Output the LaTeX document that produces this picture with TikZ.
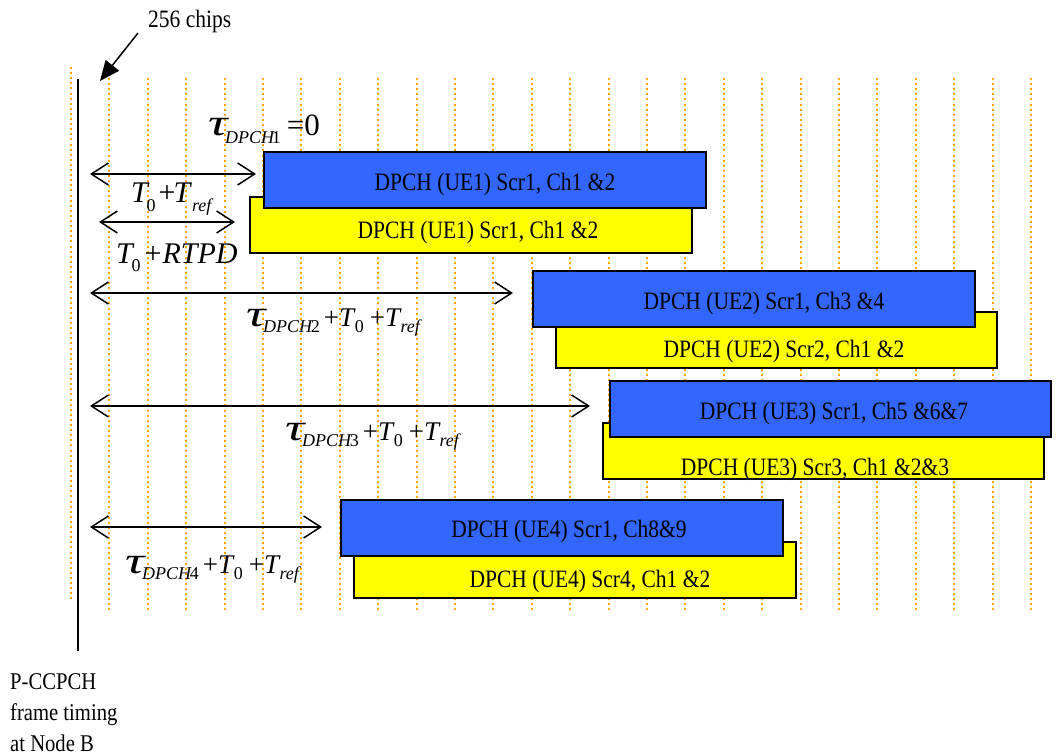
\documentclass[tikz,border=0pt]{standalone}
\usepackage{fontspec}
\usepackage{graphicx}
\setmainfont{Liberation Serif}
\newfontfamily\condfont[FakeStretch=0.86]{Liberation Serif}
\usetikzlibrary{arrows.meta}
\definecolor{dotorange}{RGB}{255,165,0}
\definecolor{boxblue}{RGB}{51,102,255}
\definecolor{boxyellow}{RGB}{255,255,0}
\newcommand{\lsub}[2][6pt]{\raisebox{-#1}{\fontsize{18}{18}\selectfont #2}}
\newcommand{\bigtau}{{\fontsize{30}{30}\selectfont\scalebox{1.8}[1.25]{\textit{τ}}}}
\tikzset{
  gridline/.style={dotorange, line width=2pt, dash pattern=on 2pt off 3.1pt},
  bluebox/.style={draw=black, fill=boxblue, line width=1.8pt, minimum width=442pt, minimum height=56pt, anchor=north west, inner sep=0pt},
  yellowbox/.style={draw=black, fill=boxyellow, line width=1.8pt, minimum width=442pt, minimum height=56pt, anchor=north west, inner sep=0pt},
  boxtext/.style={anchor=base, font=\condfont\fontsize{25}{25}\selectfont, inner sep=0pt},
  plaintext/.style={anchor=base west, font=\condfont\fontsize{24}{24}\selectfont, inner sep=0pt},
  span/.style={line width=1.5pt, {Straight Barb[length=17pt,width=22pt]}-{Straight Barb[length=17pt,width=22pt]}},
  mathlbl/.style={anchor=base west, inner sep=0pt},
}
\begin{document}
\begin{tikzpicture}[x=1pt,y=-1pt]
\useasboundingbox (0,0) rectangle (1059,755);
% grid of 256-chip marks
\draw[gridline] (71,67) -- (71,600);
\foreach \k in {1,...,25}
  \draw[gridline] ({71+38.4*\k},78) -- ({71+38.4*\k},613);
% frame timing line
\draw[line width=2pt] (77.5,79) -- (77.5,651);
% 256 chips
\node[plaintext, font=\condfont\fontsize{25}{25}\selectfont] (chips) at (148,27) {256 chips};
\coordinate (chipsfrom) at (138,33);
\coordinate (chipsto) at (100,81);
\draw[line width=1.5pt, -{Triangle[length=20pt,width=17pt]}] (chipsfrom) -- (chipsto);
% bottom label
\node[plaintext] (pcc1) at (10,689) {P-CCPCH};
\node[plaintext] (pcc2) at (10,720) {frame timing};
\node[plaintext] (pcc3) at (10,751) {at Node B};
% boxes
\node[yellowbox] (y1) at (249,196) {};
\node[yellowbox, minimum width=441pt] (y2) at (555,311) {};
\node[yellowbox, minimum width=441pt] (y3) at (602,422) {};
\node[yellowbox] (y4) at (353,541) {};
\node[bluebox] (b1) at (263,151) {};
\node[bluebox] (b2) at (532,270) {};
\node[bluebox, minimum width=441pt] (b3) at (609,380) {};
\node[bluebox] (b4) at (340,499) {};
% box texts
\node[boxtext] (tb1) at (495,190) {DPCH (UE1) Scr1, Ch1 \&2};
\node[boxtext] (ty1) at (478,238) {DPCH (UE1) Scr1, Ch1 \&2};
\node[boxtext] (tb2) at (764,309) {DPCH (UE2) Scr1, Ch3 \&4};
\node[boxtext] (ty2) at (784,357) {DPCH (UE2) Scr2, Ch1 \&2};
\node[boxtext] (tb3) at (834,419) {DPCH (UE3) Scr1, Ch5 \&6\&7};
\node[boxtext] (ty3) at (815,475) {DPCH (UE3) Scr3, Ch1 \&2\&3};
\node[boxtext] (tb4) at (569,537) {DPCH (UE4) Scr1, Ch8\&9};
\node[boxtext] (ty4) at (590,587) {DPCH (UE4) Scr4, Ch1 \&2};
% span arrows
\coordinate (a1s) at (90,174);  \coordinate (a1e) at (256,174);
\coordinate (a2s) at (99,222);  \coordinate (a2e) at (235,222);
\coordinate (a3s) at (90,293);  \coordinate (a3e) at (513,293);
\coordinate (a4s) at (90,406);  \coordinate (a4e) at (590,406);
\coordinate (a5s) at (90,527);  \coordinate (a5e) at (322,527);
\draw[span] (a1s) -- (a1e);
\draw[span] (a2s) -- (a2e);
\draw[span] (a3s) -- (a3e);
\draw[span] (a4s) -- (a4e);
\draw[span] (a5s) -- (a5e);
% math labels
\node[mathlbl, font=\fontsize{31}{31}\selectfont] (l1) at (208,135)
  {\bigtau\kern-4pt\lsub[8pt]{\textit{DPCH}\kern-3pt 1}\kern6pt=0};
\node[mathlbl, font=\fontsize{30}{30}\selectfont] (l2) at (131,202)
  {\textit{T}\kern-3pt\lsub[9pt]{0}\kern3pt+\kern-2pt\textit{T}\lsub[9pt]{\textit{ref}}};
\node[mathlbl, font=\fontsize{30}{30}\selectfont] (l3) at (116,263)
  {\textit{T}\kern-3pt\lsub[8pt]{0}\kern4pt+\kern1pt\textit{RTPD}};
\node[mathlbl, font=\fontsize{27}{27}\selectfont] (l4) at (246,326)
  {\bigtau\kern-4pt\lsub{\textit{DPCH}\kern-2pt 2}\kern4pt+\textit{T}\kern-1pt\lsub{0}\kern6pt+\textit{T}\kern-1pt\lsub{\textit{ref}}};
\node[mathlbl, font=\fontsize{27}{27}\selectfont] (l5) at (285,440)
  {\bigtau\kern-4pt\lsub{\textit{DPCH}\kern-2pt 3}\kern4pt+\textit{T}\kern-1pt\lsub{0}\kern6pt+\textit{T}\kern-1pt\lsub{\textit{ref}}};
\node[mathlbl, font=\fontsize{27}{27}\selectfont] (l6) at (125,573)
  {\bigtau\kern-4pt\lsub{\textit{DPCH}\kern-2pt 4}\kern4pt+\textit{T}\kern-1pt\lsub{0}\kern6pt+\textit{T}\kern-1pt\lsub{\textit{ref}}};
\end{tikzpicture}
\end{document}
